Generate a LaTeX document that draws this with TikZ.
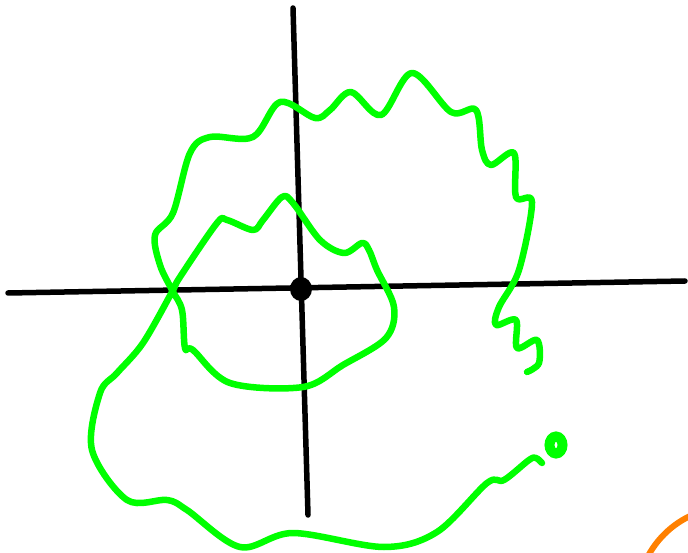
\documentclass[tikz,border=0pt]{standalone}
\usepackage{xcolor}
\definecolor{sketchgreen}{RGB}{0,255,0}
\definecolor{sketchorange}{RGB}{255,128,0}

\begin{document}
\begin{tikzpicture}[
  x=1pt, y=-1pt,
  axis/.style={line width=5.5pt, black, line cap=round},
  wiggle/.style={line width=6.5pt, sketchgreen, line cap=round, line join=round},
  blob/.style={line width=10pt, sketchgreen}
]
\useasboundingbox (0,0) rectangle (688,553);
\clip (0,0) rectangle (688,553);

% axes
\draw[axis] (8,293) -- (685,281);
\draw[axis] (293,8) -- (308,515);
\fill (301,289) ellipse (11 and 12);

% spiral
\draw[wiggle] plot[smooth, tension=0.55] coordinates {
  (527,372) (539,363) (537,340) (517,348) (516,320) (496,325) (499,307)
  (519,270) (532,202) (516,197) (514,153) (491,165) (482,150) (476,110)
  (451,112) (412,73) (381,115) (351,92) (330,110) (315,118) (280,102)
  (253,137) (210,137) (190,153) (173,213) (155,235) (160,265) (172,290)
  (182,310) (185,348) (193,350) (230,383) (303,387) (343,365) (386,338)
  (394,307) (377,270) (369,250) (362,243) (344,253) (320,240) (293,203)
  (282,197) (263,220) (253,230) (227,220) (217,223) (180,277) (172,292)
  (143,343) (117,373) (100,393) (92,450) (127,500) (167,500) (187,510)
  (240,547) (293,533) (384,547) (437,532) (487,483) (504,480) (529,460)
  (536,458) (542,463)};

% end dot
\draw[blob] (556,445) ellipse (6.5 and 8.5);

% corner arc
\draw[line width=6pt, sketchorange] (730,600) circle (93);
\end{tikzpicture}
\end{document}
